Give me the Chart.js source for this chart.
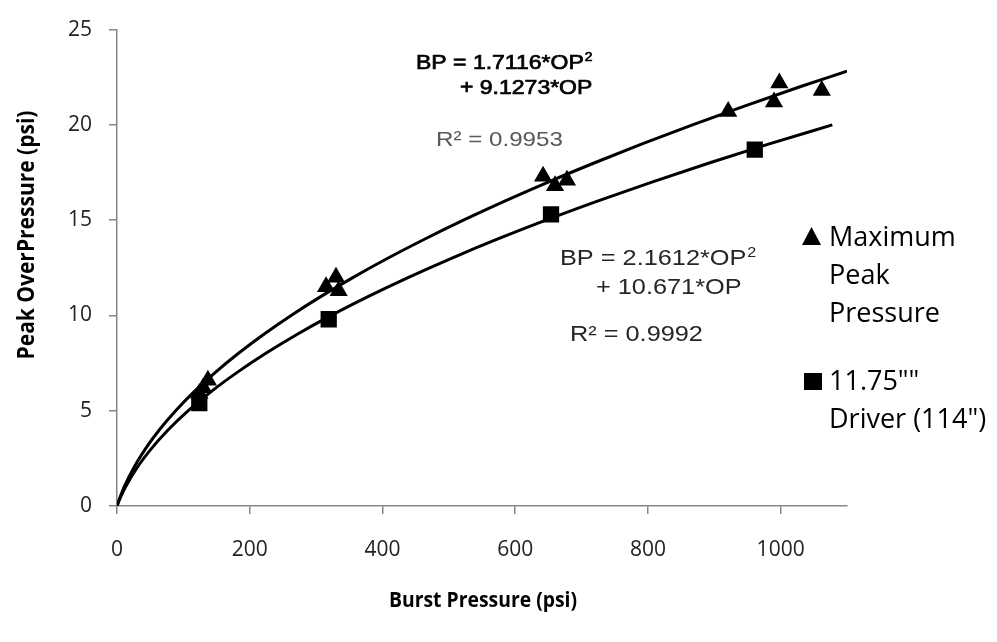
<!DOCTYPE html>
<html>
<head>
<meta charset="utf-8">
<script src="https://cdn.jsdelivr.net/npm/chart.js@4.4.1/dist/chart.umd.min.js"></script>
<style>
  html, body { margin: 0; padding: 0; background: #fff; }
  #wrap { width: 997px; height: 642px; }
</style>
</head>
<body>
<div id="wrap"><canvas id="grafico" width="997" height="642"></canvas></div>
<script>
const X_TICKS = [0, 200, 400, 600, 800, 1000];
const Y_TICKS = [0, 5, 10, 15, 20, 25];
const TITULO_X = 'Burst Pressure (psi)';
const TITULO_Y = 'Peak OverPressure (psi)';

// Maximum Peak Pressure (triángulos)
const maxBurst = [124, 130, 137, 315, 330, 334, 642, 660, 678, 921, 990, 998, 1062];
const maxPeak  = [5.9, 6.2, 6.6, 11.5, 12.0, 11.3, 17.3, 16.8, 17.1, 20.7, 21.2, 22.2, 21.8];

// 11.75"" Driver (cuadrados)
const drvBurst = [124, 319, 654, 961];
const drvPeak  = [5.4, 9.8, 15.3, 18.7];

// líneas de tendencia
const curvaMaxX = [0, 2.4, 5.0, 10.8, 25.1, 42.8, 63.9, 88.4, 116.4, 147.8, 182.6, 220.8, 262.4, 307.5, 356.0, 407.9, 463.3, 522.0, 584.2, 649.8, 718.9, 791.3, 867.2, 946.5, 1029.2, 1100];
const curvaMaxY = [0, 0.25, 0.5, 1, 2, 3, 4, 5, 6, 7, 8, 9, 10, 11, 12, 13, 14, 15, 16, 17, 18, 19, 20, 21, 22, 22.82];
const curvaDrvX = [0, 2.8, 5.9, 12.8, 30.0, 51.5, 77.3, 107.4, 141.8, 180.6, 223.7, 271.1, 322.8, 378.9, 439.3, 504.0, 573.0, 646.3, 724.0, 806.0, 892.3, 982.9, 1077.9];
const curvaDrvY = [0, 0.25, 0.5, 1, 2, 3, 4, 5, 6, 7, 8, 9, 10, 11, 12, 13, 14, 15, 16, 17, 18, 19, 20];

// textos de ecuaciones y leyenda
const ecuMax = ['BP = 1.7116*OP', '+ 9.1273*OP', 'R² = 0.9953'];
const ecuDrv = ['BP = 2.1612*OP', '+ 10.671*OP', 'R² = 0.9992'];
const leyendaMax = ['Maximum', 'Peak', 'Pressure'];
const leyendaDrv = ['11.75""', 'Driver (114")'];

const pares = (xs, ys) => xs.map((x, i) => ({ x, y: ys[i] }));

const GRIS_EJE = '#868686';
const ESTIRA = 1.15; // el original viene estirado en horizontal

function texto(c, t, x, y, font, color, estira = 1, trazo = 0) {
  c.save();
  c.font = font;
  c.fillStyle = color;
  c.translate(x, y);
  c.scale(estira, 1);
  c.fillText(t, 0, 0);
  if (trazo) {
    c.strokeStyle = color;
    c.lineWidth = trazo;
    c.strokeText(t, 0, 0);
  }
  const w = c.measureText(t).width * estira;
  c.restore();
  return w;
}

function conExponente(c, t, x, y, px, color, trazo = 0) {
  const w = texto(c, t, x, y, `${px}px "Liberation Sans"`, color, ESTIRA, trazo);
  texto(c, '2', x + w + 1, y - px * 0.38, `${Math.round(px * 0.62)}px "Liberation Sans"`, color, ESTIRA, trazo);
}

const rotulos = {
  id: 'rotulos',
  afterDraw(chart) {
    const c = chart.ctx;
    c.save();
    c.textBaseline = 'alphabetic';
    c.fillStyle = '#000';

    // títulos de ejes (comprimidos a lo largo del texto)
    c.textAlign = 'center';
    c.font = 'bold 22px "Open Sans"';
    c.save();
    c.translate(483, 607);
    c.scale(0.88, 1);
    c.fillText(TITULO_X, 0, 0);
    c.restore();
    c.font = 'bold 24px "Open Sans"';
    c.save();
    c.translate(34, 235);
    c.rotate(-Math.PI / 2);
    c.scale(0.875, 1);
    c.fillText(TITULO_Y, 0, 0);
    c.restore();
    c.textAlign = 'left';

    // ecuación superior
    conExponente(c, ecuMax[0], 416, 69, 20, '#000', 0.7);
    texto(c, ecuMax[1], 460, 94, '20px "Liberation Sans"', '#000', ESTIRA, 0.7);
    texto(c, ecuMax[2], 436, 146, '21px "Liberation Sans"', '#595959', ESTIRA);

    // ecuación inferior
    conExponente(c, ecuDrv[0], 560, 265, 22, '#262626');
    texto(c, ecuDrv[1], 596, 294, '22px "Liberation Sans"', '#262626', ESTIRA);
    texto(c, ecuDrv[2], 570, 341, '22px "Liberation Sans"', '#262626', ESTIRA);

    // leyenda
    c.fillStyle = '#000';
    c.beginPath();
    c.moveTo(811.5, 227);
    c.lineTo(821, 245);
    c.lineTo(802, 245);
    c.closePath();
    c.fill();
    c.fillRect(804, 373, 18, 17);

    c.font = '27px "Open Sans"';
    leyendaMax.forEach((t, i) => c.fillText(t, 829, 245.5 + i * 38));
    leyendaDrv.forEach((t, i) => c.fillText(t, 829, 390 + i * 38));
    c.restore();
  }
};

new Chart(document.getElementById('grafico'), {
  type: 'scatter',
  data: {
    datasets: [
      {
        label: 'Maximum Peak Pressure',
        data: pares(maxBurst, maxPeak),
        pointStyle: 'triangle',
        pointRadius: 10.5,
        backgroundColor: '#000',
        borderColor: '#000',
        borderWidth: 0,
        order: 0,
      },
      {
        label: '11.75"" Driver (114")',
        data: pares(drvBurst, drvPeak),
        pointStyle: 'rect',
        pointRadius: 11.5,
        backgroundColor: '#000',
        borderColor: '#000',
        borderWidth: 0,
        order: 0,
      },
      {
        label: 'tendencia max',
        data: pares(curvaMaxX, curvaMaxY),
        showLine: true,
        pointRadius: 0,
        borderColor: '#000',
        borderWidth: 3,
        cubicInterpolationMode: 'monotone',
        order: 1,
      },
      {
        label: 'tendencia driver',
        data: pares(curvaDrvX, curvaDrvY),
        showLine: true,
        pointRadius: 0,
        borderColor: '#000',
        borderWidth: 3,
        cubicInterpolationMode: 'monotone',
        order: 1,
      },
    ],
  },
  options: {
    responsive: false,
    animation: false,
    layout: { padding: { top: 23, right: 150, left: 0, bottom: 0 } },
    plugins: { legend: { display: false }, tooltip: { enabled: false } },
    scales: {
      x: {
        type: 'linear',
        min: 0,
        max: 1100,
        afterBuildTicks: s => { s.ticks = X_TICKS.map(v => ({ value: v })); },
        afterFit: s => { s.height = 136; },
        ticks: { padding: 23, color: '#222', font: { family: 'Open Sans', size: 21 }, callback: v => String(v) },
        grid: { drawOnChartArea: false, drawTicks: true, tickLength: 8, color: GRIS_EJE, lineWidth: 1.5 },
        border: { color: GRIS_EJE, width: 1.5 },
      },
      y: {
        type: 'linear',
        min: 0,
        max: 25,
        afterBuildTicks: s => { s.ticks = Y_TICKS.map(v => ({ value: v })); },
        afterFit: s => { s.width = 117; },
        ticks: { padding: 17, color: '#222', font: { family: 'Open Sans', size: 21 }, callback: v => String(v) },
        grid: { drawOnChartArea: false, drawTicks: true, tickLength: 8, color: GRIS_EJE, lineWidth: 1.5 },
        border: { color: GRIS_EJE, width: 1.5 },
      },
    },
  },
  plugins: [rotulos],
});
</script>
</body>
</html>
